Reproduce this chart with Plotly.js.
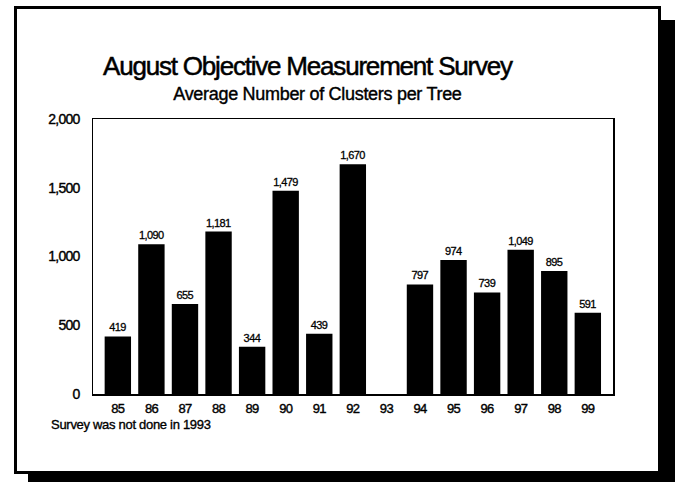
<!DOCTYPE html>
<html>
<head>
<meta charset="utf-8">
<script src="https://cdn.plot.ly/plotly-3.0.1.min.js"></script>
<style>
  html, body { margin: 0; padding: 0; background: #fff; }
  #chart { width: 675px; height: 482px; }
  .annotation[data-index="0"] text { letter-spacing: -1.2px; stroke: #000; stroke-width: 0.5px; }
  .annotation[data-index="1"] text { letter-spacing: -0.3px; stroke: #000; stroke-width: 0.4px; }
  .annotation[data-index="2"] text { letter-spacing: -0.3px; stroke: #000; stroke-width: 0.35px; }
  .xtick text, .ytick text { letter-spacing: -0.7px; stroke: #000; stroke-width: 0.4px; }
  text.bartext { letter-spacing: -0.6px; stroke: #000; stroke-width: 0.3px; }
</style>
</head>
<body>
<div id="chart"></div>
<script>
// ---- data ----
const years = ['85','86','87','88','89','90','91','92','93','94','95','96','97','98','99'];
const clusters = [419, 1090, 655, 1181, 344, 1479, 439, 1670, null, 797, 974, 739, 1049, 895, 591];
const yTicks = [0, 500, 1000, 1500, 2000];
const titleText = 'August Objective Measurement Survey';
const subtitleText = 'Average Number of Clusters per Tree';
const noteText = 'Survey was not done in 1993';

// ---- layout helpers (pixel -> paper) ----
const W = 675, H = 482;
const M = {l: 93, r: 62, t: 119, b: 88};
const PW = W - M.l - M.r, PH = H - M.t - M.b;
const px = x => (x - M.l) / PW;
const py = y => (H - M.b - y) / PH;

const FONT = 'Liberation Sans, Arial, sans-serif';

const trace = {
  type: 'bar',
  x: years,
  y: clusters,
  marker: {color: '#000000', line: {width: 0}},
  texttemplate: '%{y:,}',
  textposition: 'outside',
  textfont: {family: FONT, size: 11, color: '#000'},
  cliponaxis: false,
  hoverinfo: 'x+y'
};

const layout = {
  width: W, height: H,
  margin: M,
  paper_bgcolor: '#fff',
  plot_bgcolor: '#fff',
  showlegend: false,
  bargap: 0.214,
  font: {family: FONT, color: '#000'},
  xaxis: {
    type: 'category',
    range: [-0.74, 14.75],
    showline: true, linecolor: '#000', linewidth: 1.5, mirror: true,
    ticks: '', showgrid: false, zeroline: false,
    tickfont: {family: FONT, size: 13, color: '#000'},
    ticklabelstandoff: 2,
    fixedrange: true
  },
  yaxis: {
    range: [0, 2000],
    tickvals: yTicks,
    tickformat: ',',
    showline: true, linecolor: '#000', linewidth: 1.5, mirror: true,
    ticks: '', showgrid: false, zeroline: false,
    tickfont: {family: FONT, size: 14, color: '#000'},
    ticklabelstandoff: 9,
    fixedrange: true
  },
  annotations: [
    {text: titleText, xref: 'paper', yref: 'paper', x: px(307.5), y: py(50),
     xanchor: 'center', yanchor: 'top', showarrow: false,
     font: {family: FONT, size: 26, color: '#000'}, borderpad: 0},
    {text: subtitleText, xref: 'paper', yref: 'paper', x: px(317.5), y: py(83),
     xanchor: 'center', yanchor: 'top', showarrow: false,
     font: {family: FONT, size: 18, color: '#000'}, borderpad: 0},
    {text: noteText, xref: 'paper', yref: 'paper', x: px(131), y: py(416),
     xanchor: 'center', yanchor: 'top', showarrow: false,
     font: {family: FONT, size: 13, color: '#000'}, borderpad: 0}
  ],
  shapes: [
    // drop shadow
    {type: 'rect', xref: 'paper', yref: 'paper', layer: 'below',
     x0: px(661), x1: px(676), y0: py(483), y1: py(20),
     fillcolor: '#000', line: {width: 0}},
    {type: 'rect', xref: 'paper', yref: 'paper', layer: 'below',
     x0: px(28), x1: px(676), y0: py(483), y1: py(474),
     fillcolor: '#000', line: {width: 0}},
    // frame
    {type: 'rect', xref: 'paper', yref: 'paper', layer: 'below',
     x0: px(15.5), x1: px(659.5), y0: py(472.5), y1: py(7.5),
     fillcolor: 'rgba(0,0,0,0)', line: {color: '#000', width: 3}}
  ]
};

Plotly.newPlot('chart', [trace], layout, {displayModeBar: false, staticPlot: true});
</script>
</body>
</html>
